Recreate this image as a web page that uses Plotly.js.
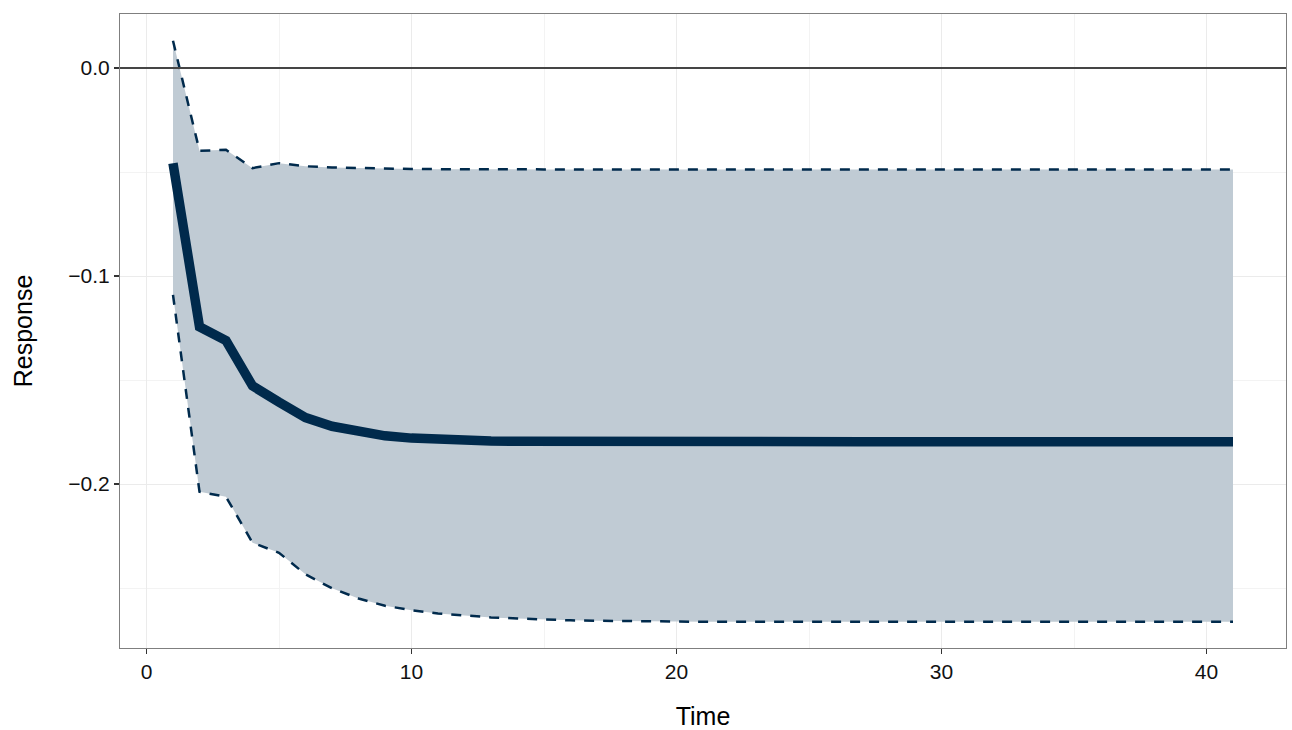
<!DOCTYPE html>
<html>
<head>
<meta charset="utf-8">
<script src="https://cdn.plot.ly/plotly-3.0.1.min.js"></script>
<style>html,body{margin:0;padding:0;background:#fff;}#chart{width:1292px;height:730px;}</style>
</head>
<body>
<div id="chart"></div>
<script>
const time = Array.from({length: 41}, (_, i) => i + 1);
const responseMean = [-0.0457, -0.1244, -0.1310, -0.1528, -0.1606, -0.1680, -0.1722, -0.1750, -0.1768, -0.1779,
  -0.1786, -0.1790, -0.1793, -0.1794, -0.1795, -0.1796, -0.1796, -0.1796, -0.1796, -0.1796,
  -0.1796, -0.1796, -0.1796, -0.1796, -0.1796, -0.1796, -0.1796, -0.1796, -0.1796, -0.1796,
  -0.1796, -0.1796, -0.1796, -0.1796, -0.1796, -0.1796, -0.1796, -0.1796, -0.1796, -0.1796, -0.1796];
const upperBand = [0.0131, -0.0398, -0.0393, -0.0481, -0.0457, -0.0472, -0.0478, -0.0481, -0.0483, -0.0485,
  -0.0486, -0.0487, -0.0487, -0.0487, -0.0487, -0.0487, -0.0487, -0.0487, -0.0487, -0.0487,
  -0.0487, -0.0487, -0.0487, -0.0487, -0.0487, -0.0487, -0.0487, -0.0487, -0.0487, -0.0487,
  -0.0487, -0.0487, -0.0487, -0.0487, -0.0487, -0.0487, -0.0487, -0.0487, -0.0487, -0.0487, -0.0487];
const lowerBand = [-0.1090, -0.2037, -0.2061, -0.2282, -0.2330, -0.2434, -0.2501, -0.2550, -0.2585, -0.2606,
  -0.2622, -0.2633, -0.2641, -0.2646, -0.2652, -0.2655, -0.2657, -0.2659, -0.2660, -0.2661,
  -0.2662, -0.2662, -0.2662, -0.2662, -0.2662, -0.2662, -0.2662, -0.2662, -0.2662, -0.2662,
  -0.2662, -0.2662, -0.2662, -0.2662, -0.2662, -0.2662, -0.2662, -0.2662, -0.2662, -0.2662, -0.2662];
const xTicks = [0, 10, 20, 30, 40];
const yTicks = [0.0, -0.1, -0.2];

const navy = '#002a4c';
const traces = [
  {x: time, y: lowerBand, type: 'scatter', mode: 'lines', line: {width: 0, color: 'rgba(0,0,0,0)'}, hoverinfo: 'skip', showlegend: false},
  {x: time, y: upperBand, type: 'scatter', mode: 'lines', fill: 'tonexty', fillcolor: '#c0cbd4', line: {width: 0, color: 'rgba(0,0,0,0)'}, hoverinfo: 'skip', showlegend: false},
  {x: time, y: upperBand, type: 'scatter', mode: 'lines', line: {color: navy, width: 2.5, dash: '10px,9px'}, showlegend: false},
  {x: time, y: lowerBand, type: 'scatter', mode: 'lines', line: {color: navy, width: 2.5, dash: '10px,9px'}, showlegend: false},
  {x: time, y: responseMean, type: 'scatter', mode: 'lines', line: {color: navy, width: 9.5}, showlegend: false}
];

const layout = {
  width: 1292, height: 730,
  margin: {l: 120, r: 6, t: 14, b: 82},
  paper_bgcolor: '#ffffff', plot_bgcolor: '#ffffff',
  font: {family: 'Liberation Sans, Arial, sans-serif', color: '#1a1a1a'},
  xaxis: {
    range: [-1, 43], tickvals: xTicks, ticktext: xTicks.map(String),
    showgrid: true, gridcolor: '#ebebeb', gridwidth: 1,
    minor: {dtick: 5, tick0: 0, showgrid: true, gridcolor: '#f3f3f3', gridwidth: 1},
    zeroline: false, showline: true, mirror: true, linecolor: '#7f7f7f', linewidth: 1,
    ticks: 'outside', ticklen: 5, tickwidth: 1.5, tickcolor: '#333333',
    tickfont: {size: 21, color: '#111111'},
    title: {text: 'Time', font: {size: 25, color: '#000'}, standoff: 28}
  },
  yaxis: {
    range: [-0.2788, 0.026], tickvals: yTicks, tickformat: '.1f',
    showgrid: true, gridcolor: '#ebebeb', gridwidth: 1,
    minor: {tickvals: [-0.25, -0.15, -0.05], showgrid: true, gridcolor: '#f3f3f3', gridwidth: 1},
    zeroline: false, showline: true, mirror: true, linecolor: '#7f7f7f', linewidth: 1,
    ticks: 'outside', ticklen: 5, tickwidth: 1.5, tickcolor: '#333333',
    tickfont: {size: 21, color: '#111111'},
    title: {text: 'Response', font: {size: 25, color: '#000'}, standoff: 28}
  },
  shapes: [
    {type: 'line', xref: 'paper', x0: 0, x1: 1, yref: 'y', y0: 0, y1: 0, line: {color: '#454545', width: 2}, layer: 'above'}
  ]
};

Plotly.newPlot('chart', traces, layout, {displayModeBar: false, staticPlot: true});
</script>
</body>
</html>
